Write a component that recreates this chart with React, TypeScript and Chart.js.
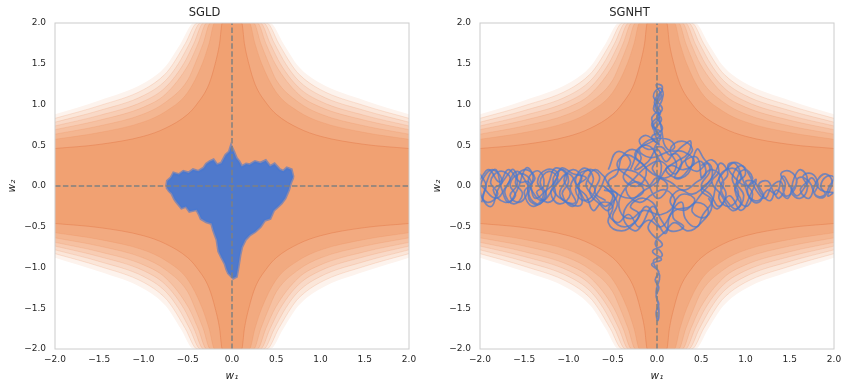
import React, { useEffect, useRef } from 'react';
import { Chart, registerables } from 'chart.js';

Chart.register(...registerables);

type P = [number, number];

// ---------- data ----------
const panelTitles = ['SGLD', 'SGNHT'];
const axisMin = -2;
const axisMax = 2;
const tickStep = 0.5;

// contour level curves, upper-left quadrant (mirrored to the other quadrants)
const level1: P[] = [[-2, 0.46], [-1.5, 0.51], [-1, 0.61], [-0.75, 0.71], [-0.5, 0.88], [-0.4, 1.0], [-0.26, 1.25], [-0.19, 1.5], [-0.14, 1.75], [-0.11, 2]];
const level2: P[] = [[-2, 0.573], [-1.5, 0.656], [-1, 0.786], [-0.75, 0.915], [-0.5, 1.15], [-0.336, 1.5], [-0.259, 1.75], [-0.196, 2]];
const level3: P[] = [[-2, 0.636], [-1.5, 0.737], [-1, 0.883], [-0.75, 1.029], [-0.5, 1.3], [-0.417, 1.5], [-0.325, 1.75], [-0.244, 2]];
const level4: P[] = [[-2, 0.691], [-1.5, 0.807], [-1, 0.968], [-0.75, 1.128], [-0.487, 1.5], [-0.382, 1.75], [-0.286, 2]];
const level5: P[] = [[-2, 0.737], [-1.5, 0.866], [-1, 1.039], [-0.75, 1.212], [-0.546, 1.5], [-0.43, 1.75], [-0.321, 2]];
const level6: P[] = [[-2, 0.783], [-1.5, 0.926], [-1, 1.11], [-0.75, 1.295], [-0.606, 1.5], [-0.479, 1.75], [-0.356, 2]];
const level7: P[] = [[-2, 0.83], [-1.5, 0.985], [-1, 1.182], [-0.75, 1.379], [-0.665, 1.5], [-0.527, 1.75], [-0.392, 2]];
const level8: P[] = [[-2, 0.88], [-1.5, 1.05], [-1, 1.26], [-0.75, 1.47], [-0.58, 1.75], [-0.43, 2]];
const levelAlphas = [1, 0.9, 0.78, 0.66, 0.53, 0.4, 0.27, 0.13];

// SGLD samples: outline of the sample cloud
const sgldUpper: P[] = [[-0.74, -0.01], [-0.73, 0.06], [-0.69, 0.1], [-0.66, 0.16], [-0.6, 0.14], [-0.55, 0.18], [-0.49, 0.16], [-0.44, 0.2], [-0.38, 0.18], [-0.32, 0.22], [-0.29, 0.27], [-0.25, 0.3], [-0.21, 0.32], [-0.17, 0.26], [-0.12, 0.28], [-0.07, 0.38], [-0.03, 0.42], [-0.01, 0.49], [0.02, 0.42], [0.05, 0.34], [0.08, 0.3], [0.11, 0.24], [0.16, 0.27], [0.2, 0.26], [0.26, 0.3], [0.32, 0.28], [0.38, 0.31], [0.43, 0.24], [0.48, 0.27], [0.54, 0.2], [0.58, 0.18], [0.62, 0.22], [0.67, 0.2], [0.69, 0.11]];
const sgldLower: P[] = [[-0.74, -0.01], [-0.71, -0.06], [-0.68, -0.09], [-0.65, -0.16], [-0.63, -0.19], [-0.57, -0.27], [-0.52, -0.25], [-0.48, -0.31], [-0.4, -0.29], [-0.37, -0.35], [-0.35, -0.4], [-0.29, -0.44], [-0.23, -0.46], [-0.21, -0.54], [-0.19, -0.6], [-0.17, -0.66], [-0.15, -0.8], [-0.12, -0.87], [-0.08, -0.95], [-0.06, -1.02], [-0.04, -1.07], [0.015, -1.13], [0.05, -1.11], [0.07, -0.99], [0.09, -0.85], [0.11, -0.75], [0.15, -0.66], [0.2, -0.6], [0.26, -0.56], [0.32, -0.5], [0.37, -0.42], [0.43, -0.4], [0.47, -0.3], [0.52, -0.25], [0.56, -0.21], [0.6, -0.15], [0.64, -0.05], [0.66, 0.03], [0.69, 0.11]];

// SGNHT trajectory, split in pieces
const sgnhtSeg1: P[] = [
  [0.0, 0.0], [0.05, 0.25], [-0.03, 0.45], [0.04, 0.6], [-0.05, 0.72], [0.03, 0.85], [-0.02, 0.98], [0.05, 1.1], [-0.01, 1.24], [0.06, 1.22], [0.02, 1.08], [-0.04, 0.95], [0.05, 0.82], [-0.03, 0.68], [0.02, 0.52],
  [-0.12, 0.62], [-0.2, 0.55], [-0.1, 0.45], [0.05, 0.48], [0.15, 0.38], [0.3, 0.5], [0.38, 0.55], [0.35, 0.4], [0.22, 0.3], [0.1, 0.2], [0.25, 0.1], [0.4, 0.25], [0.5, 0.3], [0.55, 0.15], [0.45, 0.05], [0.3, -0.05], [0.15, 0.05], [-0.05, 0.15], [-0.2, 0.3], [-0.35, 0.38], [-0.45, 0.25], [-0.3, 0.1], [-0.15, -0.05], [-0.3, -0.15], [-0.5, -0.05], [-0.6, 0.12],
];
const sgnhtSeg2: P[] = [
  [-0.6, 0.12], [-0.7, 0.2], [-0.78, 0.08], [-0.7, -0.05], [-0.82, -0.18], [-0.92, -0.05], [-0.85, 0.1], [-0.95, 0.2], [-1.05, 0.08], [-0.98, -0.1], [-1.1, -0.22], [-1.2, -0.08], [-1.12, 0.08], [-1.22, 0.18], [-1.32, 0.05], [-1.25, -0.12], [-1.36, -0.22], [-1.46, -0.05], [-1.38, 0.1], [-1.5, 0.2], [-1.6, 0.05], [-1.52, -0.1], [-1.62, -0.22], [-1.72, -0.08], [-1.66, 0.1], [-1.78, 0.18], [-1.88, 0.05], [-1.8, -0.1], [-1.92, -0.2], [-2.0, -0.05], [-1.95, 0.12],
  [-1.85, 0.2], [-1.75, 0.05], [-1.85, -0.05], [-1.72, -0.2], [-1.6, -0.12], [-1.66, 0.02], [-1.55, 0.15], [-1.42, 0.05], [-1.5, -0.08], [-1.4, -0.25], [-1.28, -0.1], [-1.35, 0.05], [-1.25, 0.2], [-1.12, 0.15], [-1.18, -0.02], [-1.05, -0.18], [-0.92, -0.2], [-0.98, -0.02], [-0.88, 0.15], [-0.75, 0.18], [-0.8, 0.0], [-0.68, -0.15], [-0.58, -0.25], [-0.5, -0.12], [-0.6, 0.0],
];
const sgnhtSeg3: P[] = [
  [-0.6, 0.0], [-0.45, -0.2], [-0.5, -0.4], [-0.35, -0.5], [-0.2, -0.35], [-0.3, -0.25], [-0.15, -0.15], [0.0, -0.3], [-0.1, -0.5], [-0.05, -0.6], [0.06, -0.72], [-0.05, -0.8], [0.05, -0.9], [-0.06, -0.96], [0.02, -1.05], [-0.02, -1.15], [0.02, -1.25], [-0.01, -1.35], [0.02, -1.45], [-0.01, -1.55], [0.01, -1.65], [0.02, -1.5], [-0.01, -1.3], [0.03, -1.1], [-0.04, -0.92], [0.06, -0.85], [-0.02, -0.7], [0.1, -0.55], [0.2, -0.45], [0.35, -0.55], [0.5, -0.45], [0.58, -0.3], [0.45, -0.2], [0.3, -0.3], [0.15, -0.2], [0.25, -0.05], [0.4, -0.1], [0.55, 0.0],
];
const sgnhtSeg4: P[] = [
  [0.55, 0.0], [0.65, 0.15], [0.72, 0.28], [0.8, 0.15], [0.72, 0.0], [0.8, -0.2], [0.9, -0.28], [0.98, -0.12], [0.9, 0.05], [0.98, 0.2], [1.08, 0.1], [1.02, -0.05], [1.1, -0.18], [1.2, -0.12], [1.15, 0.02], [1.25, 0.06], [1.32, -0.08], [1.38, -0.15], [1.45, 0.02], [1.4, 0.15], [1.5, 0.18], [1.58, 0.05], [1.52, -0.08], [1.62, -0.15], [1.7, -0.02], [1.65, 0.12], [1.75, 0.15], [1.82, 0.02], [1.78, -0.1], [1.88, -0.14], [1.95, 0.0], [2.0, 0.1],
  [1.92, 0.12], [1.85, 0.0], [1.9, -0.1], [1.8, -0.12], [1.72, 0.05], [1.6, 0.1], [1.55, -0.05], [1.45, -0.12], [1.4, 0.05], [1.3, 0.0], [1.22, -0.15], [1.12, -0.05], [1.05, 0.12], [0.95, 0.25], [0.85, 0.1], [0.92, -0.1], [0.82, -0.25], [0.7, -0.15], [0.75, 0.05], [0.62, 0.2], [0.5, 0.1],
];
const sgnhtSeg5: P[] = [
  [0.5, 0.1], [0.45, 0.35], [0.3, 0.3], [0.2, 0.15], [0.05, 0.3], [-0.1, 0.25], [-0.25, 0.1], [-0.35, -0.05], [-0.2, -0.2], [-0.05, -0.1], [0.1, -0.05], [0.2, -0.2], [0.05, -0.35], [-0.15, -0.3], [-0.3, -0.4], [-0.42, -0.3], [-0.4, -0.1], [-0.25, 0.05], [-0.1, 0.0], [0.0, 0.1], [0.12, 0.0], [0.0, -0.15],
  [-0.15, 0.1], [-0.35, 0.2], [-0.55, 0.15], [-0.65, -0.05], [-0.78, -0.2], [-0.88, -0.05], [-1.0, 0.15], [-1.15, 0.0], [-1.3, -0.18], [-1.45, 0.0], [-1.58, 0.18], [-1.7, 0.0], [-1.82, -0.15], [-1.98, 0.0],
];
const sgnhtSeg6: P[] = [
  [-2.0, 0.15], [-1.93, 0.0], [-1.97, -0.15], [-1.87, -0.25], [-1.8, -0.05], [-1.7, 0.12], [-1.62, 0.2], [-1.58, 0.02], [-1.66, -0.12], [-1.56, -0.2], [-1.47, -0.1], [-1.44, 0.12], [-1.33, 0.18], [-1.28, 0.0], [-1.36, -0.08], [-1.24, -0.2], [-1.15, -0.12], [-1.17, 0.1], [-1.06, 0.2], [-1.0, 0.05], [-1.07, -0.1], [-0.95, -0.25], [-0.88, -0.08], [-0.92, 0.08], [-0.82, 0.22], [-0.72, 0.1], [-0.76, -0.08], [-0.65, -0.22], [-0.55, -0.3], [-0.48, -0.15], [-0.55, 0.05], [-0.45, 0.15], [-0.4, 0.35], [-0.28, 0.45], [-0.18, 0.35], [-0.25, 0.2], [-0.1, 0.3], [0.0, 0.45], [0.1, 0.3], [0.2, 0.4], [0.28, 0.28], [0.2, 0.1], [0.35, 0.15], [0.45, 0.45], [0.52, 0.35], [0.6, 0.2], [0.5, 0.0], [0.6, -0.1], [0.7, -0.25], [0.78, -0.1], [0.7, 0.1], [0.85, 0.22], [0.95, 0.1], [0.88, -0.05], [1.0, -0.25], [1.08, -0.1], [1.0, 0.05], [1.1, 0.05], [1.18, -0.1], [1.28, -0.18], [1.35, -0.05], [1.48, -0.15], [1.55, 0.1], [1.62, 0.2], [1.7, 0.08], [1.62, -0.05], [1.72, -0.15], [1.8, 0.05], [1.9, 0.15], [1.98, 0.05], [1.93, -0.12], [2.0, -0.08],
];
const sgnhtSeg7: P[] = [
  [2.0, -0.08], [1.85, -0.05], [1.75, 0.1], [1.68, 0.0], [1.58, -0.12], [1.5, 0.0], [1.42, 0.12], [1.35, -0.1], [1.25, -0.05], [1.15, -0.2], [1.05, -0.15], [0.98, 0.05], [0.88, 0.28], [0.78, 0.2], [0.68, 0.05], [0.62, -0.2], [0.52, -0.35], [0.45, -0.5], [0.32, -0.4], [0.28, -0.2], [0.15, -0.35], [0.1, -0.58], [0.0, -0.45], [-0.12, -0.25], [-0.25, -0.45], [-0.4, -0.55], [-0.55, -0.45], [-0.5, -0.25], [-0.62, -0.2], [-0.72, -0.3], [-0.8, -0.12], [-0.9, 0.0], [-0.8, 0.1], [-0.95, 0.15], [-1.08, 0.22], [-1.15, 0.05], [-1.25, -0.05], [-1.38, -0.15], [-1.45, 0.05], [-1.55, 0.05], [-1.68, 0.2], [-1.78, 0.05], [-1.9, 0.2], [-2.0, 0.08],
];
const sgnhtSeg8: P[] = [
  [-0.3, 0.2], [-0.15, 0.52], [0.1, 0.58], [0.2, 0.48], [0.08, 0.4], [-0.08, 0.35], [-0.2, 0.45], [-0.05, 0.55], [0.05, 0.65], [-0.06, 0.75], [0.04, 0.9], [-0.03, 1.02], [0.04, 1.15], [0.0, 1.05], [0.05, 0.7], [0.12, 0.45], [0.3, 0.42], [0.42, 0.3], [0.3, 0.2], [0.15, 0.25], [0.0, 0.05], [-0.2, -0.1], [-0.38, -0.35], [-0.25, -0.55], [-0.1, -0.42], [0.05, -0.5], [0.2, -0.3], [0.38, -0.25], [0.5, -0.1], [0.62, 0.05],
];
const sgnhtSeg9: P[] = [
  [-0.55, 0.2], [-0.45, 0.42], [-0.3, 0.3], [-0.38, 0.1], [-0.22, 0.0], [-0.12, 0.2], [-0.25, 0.38], [-0.12, 0.5], [0.0, 0.35], [-0.05, 0.2], [0.1, 0.1], [0.22, 0.25], [0.15, 0.45], [0.28, 0.55], [0.4, 0.45], [0.32, 0.3], [0.45, 0.18], [0.58, 0.28], [0.62, 0.1], [0.5, -0.05], [0.62, -0.18], [0.55, -0.38], [0.4, -0.32], [0.42, -0.15], [0.25, -0.12], [0.18, -0.38], [0.3, -0.5], [0.15, -0.55], [0.05, -0.42], [-0.05, -0.25], [-0.2, -0.5], [-0.32, -0.35], [-0.45, -0.45], [-0.55, -0.3], [-0.45, -0.1], [-0.6, -0.05],
];
const sgnhtSeg10: P[] = [
  [0.5, 0.25], [0.62, 0.32], [0.7, 0.18], [0.62, 0.05], [0.72, -0.1], [0.85, -0.3], [0.95, -0.2], [0.88, 0.0], [1.0, 0.15], [0.92, 0.28], [0.8, 0.25], [0.88, 0.1], [1.02, 0.0], [1.12, 0.08], [1.05, -0.12], [0.95, -0.3], [0.82, -0.12], [0.68, -0.28], [0.58, -0.15],
];
const sgnhtSeg11: P[] = [
  [-1.98, -0.2], [-1.9, 0.12], [-1.82, 0.2], [-1.76, -0.02], [-1.68, -0.2], [-1.58, -0.05], [-1.48, 0.22], [-1.4, 0.12], [-1.45, -0.15], [-1.32, -0.22], [-1.22, 0.05], [-1.15, 0.22], [-1.02, 0.12], [-1.1, -0.1], [-0.98, -0.22], [-0.85, -0.22], [-0.88, 0.02], [-0.78, 0.2], [-0.65, 0.12], [-0.7, -0.08], [-0.58, -0.18],
];
const sgnhtSeg12: P[] = [
  [0.03, 0.5], [-0.06, 0.6], [0.06, 0.7], [0.0, 0.85], [0.06, 0.95], [-0.04, 1.1], [0.03, 1.2], [0.07, 1.12], [0.0, 0.92], [-0.06, 0.82], [0.02, 0.62],
];
const sgnhtSegments = [sgnhtSeg1, sgnhtSeg2, sgnhtSeg3, sgnhtSeg4, sgnhtSeg5, sgnhtSeg6, sgnhtSeg7, sgnhtSeg8, sgnhtSeg9, sgnhtSeg10, sgnhtSeg11, sgnhtSeg12];

// ---------- styling ----------
const FONT = "'DejaVu Sans', sans-serif";
const TEXT = '#262626';
const ORANGE = [241, 161, 114];
const BLUE = '72,120,208';

function blend(a: number) {
  const c = ORANGE.map((v) => Math.round(255 - a * (255 - v)));
  return `rgb(${c[0]},${c[1]},${c[2]})`;
}

function toUpper(pts: P[]) {
  const left = pts.map(([x, y]) => ({ x, y }));
  const right = pts.slice().reverse().map(([x, y]) => ({ x: -x, y }));
  return left.concat(right);
}
function toLower(pts: P[]) {
  return toUpper(pts).map((p) => ({ x: p.x, y: -p.y }));
}
function fmt(v: number) {
  if (Math.abs(v) < 1e-9) return '0.0';
  return Number(v).toFixed(1).replace('-', '\u2212');
}

const framePlugin = {
  id: 'frame',
  afterDatasetsDraw(chart: any) {
    const { ctx, chartArea } = chart;
    ctx.save();
    ctx.strokeStyle = '#cccccc';
    ctx.lineWidth = 1;
    ctx.strokeRect(chartArea.left, chartArea.top, chartArea.right - chartArea.left, chartArea.bottom - chartArea.top);
    ctx.restore();
  },
};

function buildDatasets(kind: string) {
  const levels = [level1, level2, level3, level4, level5, level6, level7, level8];
  const ds: any[] = [];
  levels.forEach((lv, i) => {
    const color = blend(levelAlphas[i]);
    const border = i === 0 ? 'rgba(226,118,68,0.55)' : i === levels.length - 1 ? 'rgba(0,0,0,0)' : 'rgba(230,125,75,0.22)';
    [toUpper(lv), toLower(lv)].forEach((data) => {
      ds.push({
        data,
        fill: { value: 0 },
        backgroundColor: color,
        borderColor: border,
        borderWidth: 0.8,
        pointRadius: 0,
        cubicInterpolationMode: 'monotone',
        order: 20 + i * 10,
      });
    });
  });
  if (kind === 'blob') {
    ds.push({
      data: sgldUpper.map(([x, y]) => ({ x, y })),
      fill: '+1',
      backgroundColor: `rgba(${BLUE},0.96)`,
      borderColor: `rgba(${BLUE},0.6)`,
      borderWidth: 3,
      pointRadius: 0,
      tension: 0,
      order: 10,
    });
    ds.push({
      data: sgldLower.map(([x, y]) => ({ x, y })),
      fill: false,
      borderColor: `rgba(${BLUE},0.6)`,
      borderWidth: 3,
      pointRadius: 0,
      tension: 0,
      order: 10,
    });
  } else {
    sgnhtSegments.forEach((seg) => {
      ds.push({
        data: seg.map(([x, y]) => ({ x, y })),
        fill: false,
        borderColor: `rgba(${BLUE},0.72)`,
        borderWidth: 1.7,
        pointRadius: 0,
        tension: 0.45,
        order: 10,
      });
    });
  }
  const dash = {
    fill: false,
    borderColor: 'rgba(128,128,128,1)',
    borderWidth: 1.5,
    borderDash: [5.5, 2.4],
    pointRadius: 0,
    tension: 0,
    order: 1,
  };
  ds.push({ ...dash, data: [{ x: 0, y: axisMin }, { x: 0, y: axisMax }] });
  ds.push({ ...dash, data: [{ x: axisMin, y: 0 }, { x: axisMax, y: 0 }] });
  return ds;
}

function Panel({ title, kind, left }: { title: string; kind: string; left: number }) {
  const ref = useRef<HTMLCanvasElement | null>(null);
  useEffect(() => {
    if (!ref.current) return;
    const tickFont = { family: FONT, size: 9 };
    const chart = new Chart(ref.current, {
      type: 'line',
      data: { datasets: buildDatasets(kind) },
      options: {
        animation: false,
        responsive: false,
        devicePixelRatio: 1,
        layout: { padding: { left: 0, right: 16, top: 0, bottom: 0 } },
        plugins: {
          legend: { display: false },
          tooltip: { enabled: false },
          title: {
            display: true,
            text: title,
            color: TEXT,
            font: { family: FONT, size: 11.5, weight: 'normal' },
            padding: { top: 6, bottom: 3.2 },
          },
        },
        scales: {
          x: {
            type: 'linear',
            min: axisMin,
            max: axisMax,
            grid: { display: false, drawTicks: false },
            border: { display: false },
            ticks: { stepSize: tickStep, padding: 5, color: TEXT, font: tickFont, maxRotation: 0, autoSkip: false, callback: (v: any) => fmt(Number(v)) },
            title: { display: true, text: 'w\u2081', color: TEXT, font: { family: FONT, size: 10.5, style: 'italic' }, padding: { top: 0, bottom: 6.5 } },
            afterFit: (s: any) => { s.height = 40; },
          },
          y: {
            type: 'linear',
            min: axisMin,
            max: axisMax,
            grid: { display: false, drawTicks: false },
            border: { display: false },
            ticks: { stepSize: tickStep, padding: 9, color: TEXT, font: tickFont, autoSkip: false, callback: (v: any) => fmt(Number(v)) },
            title: { display: true, text: 'w\u2082', color: TEXT, font: { family: FONT, size: 10.5, style: 'italic' }, padding: { top: 5.7, bottom: 0 } },
            afterFit: (s: any) => { s.width = 55; },
          },
        },
      } as any,
      plugins: [framePlugin],
    });
    return () => chart.destroy();
  }, [title, kind]);
  return (
    <canvas
      ref={ref}
      width={425}
      height={389}
      style={{ position: 'absolute', left, top: 0, width: 425, height: 389 }}
    />
  );
}

export default function App() {
  return (
    <div style={{ position: 'absolute', left: 0, top: 0, width: 850, height: 389, background: '#ffffff', overflow: 'hidden' }}>
      <Panel title={panelTitles[0]} kind="blob" left={0} />
      <Panel title={panelTitles[1]} kind="path" left={425} />
    </div>
  );
}
